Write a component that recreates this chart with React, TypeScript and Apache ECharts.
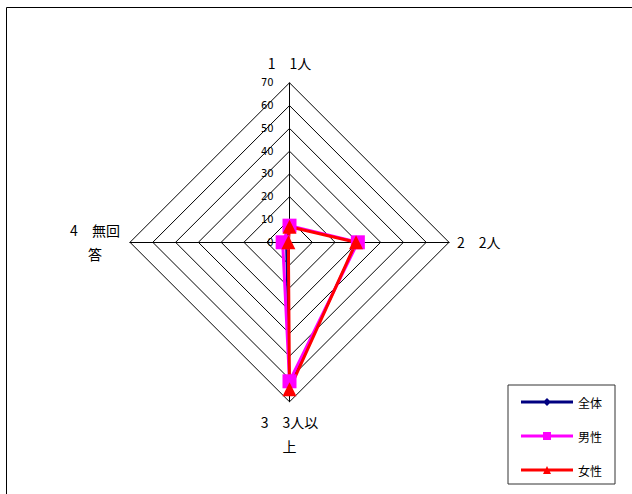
import React, { useEffect, useRef } from "react";
import * as echarts from "echarts";

const indicatorNames = ["1　1人", "2　2人", "3　3人以\n上", "4　無回\n答"];
const axisMin = 0;
const axisMax = 70;
const splitCount = 7;
const seriesNames = ["全体", "男性", "女性"];
const totalValues = [7.1, 29.5, 62.5, 1.5];
const maleValues = [7.3, 30, 61, 3.0];
const femaleValues = [6.8, 29.2, 64.5, 0.5];

// ECharts radar runs counter-clockwise; this order makes it run clockwise
const drawOrder = [0, 3, 2, 1];

const FONT = '"Noto Sans CJK JP", "Noto Sans", sans-serif';

const iconTotal = "path://M0,6 L52,6 L52,9 L0,9 Z M26,3.5 L30,7.5 L26,11.5 L22,7.5 Z";
const iconMale = "path://M0,6 L52,6 L52,9 L0,9 Z M22,3.5 L30,3.5 L30,11.5 L22,11.5 Z";
const iconFemale = "path://M0,6 L52,6 L52,9 L0,9 Z M26,3.5 L30,11.5 L22,11.5 Z";

export default function App() {
  const ref = useRef<HTMLDivElement>(null);
  useEffect(() => {
    if (!ref.current) return;
    const chart = echarts.init(ref.current, null, { renderer: "svg" });
    const indicator = drawOrder.map((idx, i) => {
      const item: any = { name: indicatorNames[idx], min: axisMin, max: axisMax };
      if (i === 0) {
        item.axisLabel = {
          show: true,
          color: "#000",
          fontSize: 11,
          fontFamily: '"DejaVu Sans Condensed", "DejaVu Sans", sans-serif',
          margin: 16,
        };
      }
      if (idx === 3) {
        item.nameTextStyle = { align: "center" };
        item.nameGap = 35;
      }
      return item;
    });
    const pick = (arr: number[]) => drawOrder.map((idx) => arr[idx]);
    chart.setOption({
      animation: false,
      backgroundColor: "#fff",
      graphic: [
        { type: "line", shape: { x1: 6.5, y1: 7.5, x2: 632, y2: 7.5 }, style: { stroke: "#000", lineWidth: 1 } },
        { type: "line", shape: { x1: 6.5, y1: 7.5, x2: 6.5, y2: 494 }, style: { stroke: "#000", lineWidth: 1 } },
      ],
      legend: {
        orient: "vertical",
        left: 508,
        top: 385,
        width: 108,
        padding: [11, 13, 8, 13],
        itemWidth: 52,
        itemHeight: 14,
        itemGap: 22,
        borderColor: "#333",
        borderWidth: 1,
        backgroundColor: "#fff",
        textStyle: { fontSize: 12, color: "#000", fontFamily: FONT },
        data: [
          { name: seriesNames[0], icon: iconTotal },
          { name: seriesNames[1], icon: iconMale },
          { name: seriesNames[2], icon: iconFemale },
        ],
      },
      radar: {
        center: [289.5, 242.3],
        radius: 159.5,
        shape: "polygon",
        startAngle: 90,
        splitNumber: splitCount,
        nameGap: 8,
        axisName: {
          color: "#000",
          fontSize: 14,
          fontFamily: FONT,
          lineHeight: 24,
        },
        axisLine: { lineStyle: { color: "#000", width: 1 } },
        splitLine: { lineStyle: { color: "#000", width: 1 } },
        splitArea: { show: false },
        axisTick: { show: false },
        axisLabel: { show: false },
        indicator,
      },
      series: [
        {
          type: "radar",
          data: [
            {
              name: seriesNames[0],
              value: pick(totalValues),
              symbol: "diamond",
              symbolSize: 8,
              lineStyle: { color: "#000080", width: 2 },
              itemStyle: { color: "#000080" },
            },
            {
              name: seriesNames[1],
              value: pick(maleValues),
              symbol: "rect",
              symbolSize: 14,
              lineStyle: { color: "#FF00FF", width: 3 },
              itemStyle: { color: "#FF00FF" },
            },
            {
              name: seriesNames[2],
              value: pick(femaleValues),
              symbol: "triangle",
              symbolSize: 14,
              lineStyle: { color: "#FF0000", width: 3 },
              itemStyle: { color: "#FF0000" },
            },
          ],
        },
      ],
    });
    return () => chart.dispose();
  }, []);
  return (
    <div
      ref={ref}
      style={{ position: "fixed", left: 0, top: 0, width: 632, height: 494 }}
    />
  );
}
